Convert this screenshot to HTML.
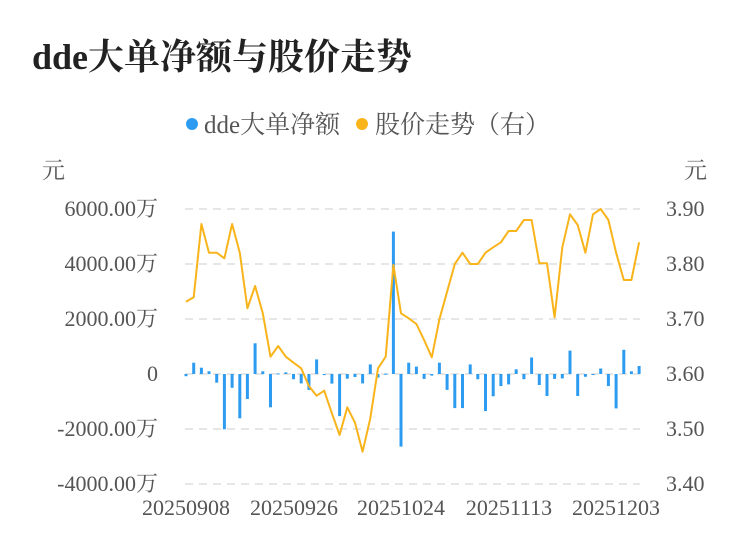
<!DOCTYPE html>
<html><head><meta charset="utf-8"><style>
body{margin:0;background:#fff;width:750px;height:558px;overflow:hidden}
svg{display:block}
text{font-family:"Liberation Serif","Noto Serif CJK SC","Noto Sans CJK SC",serif}
</style></head><body>
<svg id="s" width="750" height="558" xmlns="http://www.w3.org/2000/svg">
<text x="32" y="69" font-size="36" font-weight="bold" fill="#222">dde大单净额与股价走势</text>
<circle cx="192" cy="124" r="6" fill="#2d9cf0"/>
<text x="204" y="133" font-size="25" fill="#555">dde大单净额</text>
<circle cx="362" cy="124" r="6" fill="#f9b41b"/>
<text x="375" y="133" font-size="25" fill="#555">股价走势（右）</text>
<text x="42" y="178" font-size="23" fill="#555">元</text>
<text x="684" y="178" font-size="23" fill="#555">元</text>
<g stroke="#e6e6e6" stroke-width="2" stroke-dasharray="8,6">
<line x1="185" x2="640" y1="209" y2="209"/><line x1="185" x2="640" y1="264" y2="264"/>
<line x1="185" x2="640" y1="319" y2="319"/><line x1="185" x2="640" y1="374" y2="374"/>
<line x1="185" x2="640" y1="429" y2="429"/><line x1="185" x2="640" y1="484" y2="484"/>
</g>
<g font-size="22" fill="#555" text-anchor="end">
<text x="158" y="216">6000.00万</text><text x="158" y="271">4000.00万</text>
<text x="158" y="326">2000.00万</text><text x="158" y="381">0</text>
<text x="158" y="436">-2000.00万</text><text x="158" y="491">-4000.00万</text>
</g>
<g font-size="22" fill="#555">
<text x="666" y="216">3.90</text><text x="666" y="271">3.80</text>
<text x="666" y="326">3.70</text><text x="666" y="381">3.60</text>
<text x="666" y="436">3.50</text><text x="666" y="491">3.40</text>
</g>
<g font-size="22" fill="#555" text-anchor="middle">
<text x="186" y="515">20250908</text><text x="294" y="515">20250926</text>
<text x="401" y="515">20251024</text><text x="509" y="515">20251113</text>
<text x="616" y="515">20251203</text>
</g>
<g id="bars" fill="#2d9cf0"></g>
<polyline id="ln" fill="none" stroke="#f9b41b" stroke-width="2" stroke-linejoin="round"/>
</svg>
<script>
var v=[-80,410,230,100,-315,-2010,-500,-1610,-910,1115,100,-1210,20,60,-190,-340,-580,530,-40,-350,-1530,-170,-110,-340,350,-130,10,5180,-2640,410,270,-180,-60,410,-580,-1240,-1240,350,-190,-1350,-810,-440,-380,170,-190,600,-400,-800,-180,-160,850,-800,-100,-20,200,-440,-1250,880,100,290];
var p=[301.7,297.3,224,252.7,252.7,258.3,224,252.7,308.3,286,313.3,356.7,346,356.7,362.7,368.3,386,395.7,390.7,413.3,435,407.3,422.7,451.7,418.3,368.3,356.7,265,313.3,318.3,324,340,357.3,319.3,291.7,264,252.7,264,264,252.7,247.3,242.3,231,231,220,220,263.3,263.3,317.3,247.3,214.3,225,252.7,214.3,209,220,252.7,280,280,242.3];
var g=document.getElementById('bars'),h='',pts=[];
for(var i=0;i<60;i++){var x=186+i*7.68,y=374-v[i]*55/2000;
h+='<rect x="'+(x-1.5).toFixed(1)+'" y="'+Math.min(y,374).toFixed(1)+'" width="3" height="'+Math.max(Math.abs(374-y),1).toFixed(1)+'"/>';
pts.push(x.toFixed(1)+','+p[i]);}
g.innerHTML=h;document.getElementById('ln').setAttribute('points',pts.join(' '));
</script>
</body></html>
